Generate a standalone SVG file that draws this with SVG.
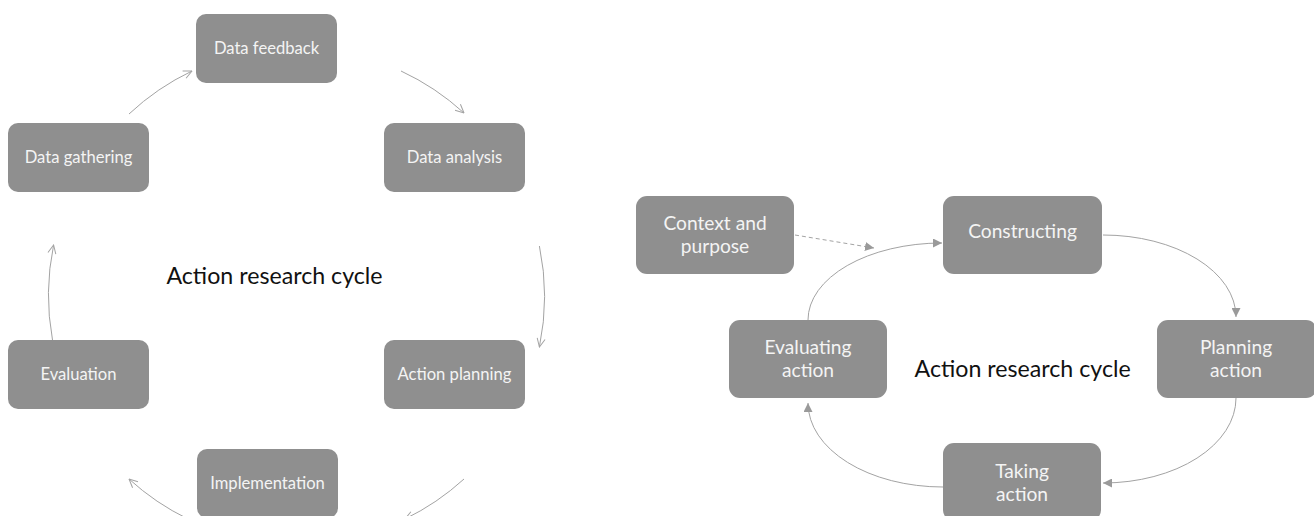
<svg xmlns="http://www.w3.org/2000/svg" width="1314" height="516" viewBox="0 0 1314 516">
<style>
.box{fill:#8f8f8f;}
.lt{font-family:Lato,"Liberation Sans",sans-serif;font-size:16.6px;fill:#f4f4f4;text-anchor:middle;}
.rt{font-family:Lato,"Liberation Sans",sans-serif;font-size:19.2px;fill:#f4f4f4;text-anchor:middle;}
.title{font-family:Lato,"Liberation Sans",sans-serif;font-size:23.2px;fill:#111;text-anchor:middle;}
.lc{fill:none;stroke:#a3a3a3;stroke-width:1;}
.rc{fill:none;stroke:#a3a3a3;stroke-width:1;}
</style>
<defs>
<marker id="open" viewBox="0 0 10 10" refX="9.5" refY="5" markerWidth="10" markerHeight="10" markerUnits="userSpaceOnUse" orient="auto">
<path d="M1,1 L9.5,5 L1,9" fill="none" stroke="#a3a3a3" stroke-width="1"/>
</marker>
<marker id="tri" viewBox="0 0 10 10" refX="10" refY="5" markerWidth="9" markerHeight="9" markerUnits="userSpaceOnUse" orient="auto">
<path d="M0,0 L10,5 L0,10 z" fill="#9a9a9a"/>
</marker>
</defs>
<rect width="1314" height="516" fill="#ffffff"/>

<g id="left-title"><text class="title" x="274.5" y="284">Action research cycle</text></g>
<g id="n-feedback"><rect class="box" x="196" y="14" width="141" height="69" rx="10"/><text class="lt" x="266.5" y="54">Data feedback</text></g>
<g id="n-gathering"><rect class="box" x="8" y="123" width="141" height="69" rx="10"/><text class="lt" x="78.5" y="163">Data gathering</text></g>
<g id="n-analysis"><rect class="box" x="384" y="123" width="141" height="69" rx="10"/><text class="lt" x="454.5" y="163">Data analysis</text></g>
<g id="n-evaluation"><rect class="box" x="8" y="340" width="141" height="69" rx="10"/><text class="lt" x="78.5" y="380">Evaluation</text></g>
<g id="n-planning"><rect class="box" x="384" y="340" width="141" height="69" rx="10"/><text class="lt" x="454.5" y="380">Action planning</text></g>
<g id="n-implementation"><rect class="box" x="197" y="449" width="141" height="69" rx="10"/><text class="lt" x="267.5" y="489">Implementation</text></g>

<g id="right-title"><text class="title" x="1022.6" y="377">Action research cycle</text></g>
<g id="n-context"><rect class="box" x="636" y="196" width="158" height="78" rx="11"/><text class="rt" x="715" y="229.5">Context and</text><text class="rt" x="715" y="252.5">purpose</text></g>
<g id="n-constructing"><rect class="box" x="943" y="196" width="159" height="78" rx="11"/><text class="rt" x="1022.5" y="238">Constructing</text></g>
<g id="n-evaluating"><rect class="box" x="729" y="320" width="158" height="78" rx="11"/><text class="rt" x="808" y="354">Evaluating</text><text class="rt" x="808" y="377">action</text></g>
<g id="n-planning-action"><rect class="box" x="1157" y="320" width="160" height="78" rx="11"/><text class="rt" x="1236" y="354">Planning</text><text class="rt" x="1236" y="377">action</text></g>
<g id="n-taking"><rect class="box" x="943" y="443" width="158" height="78" rx="11"/><text class="rt" x="1022" y="477.5">Taking</text><text class="rt" x="1022" y="500.5">action</text></g>

<g id="connectors">
<path class="lc" marker-end="url(#open)" d="M129,114 A248,248 0 0 1 192,71"/>
<path class="lc" marker-end="url(#open)" d="M401,71 A248,248 0 0 1 464,113"/>
<path class="lc" marker-end="url(#open)" d="M539.4,246 A248,248 0 0 1 539.4,347"/>
<path class="lc" marker-end="url(#open)" d="M464,479 A248,248 0 0 1 405,519"/>
<path class="lc" marker-end="url(#open)" d="M188,519 A248,248 0 0 1 129,479"/>
<path class="lc" marker-end="url(#open)" d="M52.5,340 A248,248 0 0 1 53.6,245"/>

<path class="rc" marker-end="url(#tri)" stroke-dasharray="4 3" d="M795,235 L874,248"/>
<path class="rc" marker-end="url(#tri)" d="M808,320 A134,77 0 0 1 942,243"/>
<path class="rc" marker-end="url(#tri)" d="M1103,235 A133,82 0 0 1 1236,317"/>
<path class="rc" marker-end="url(#tri)" d="M1236,398 A133,85 0 0 1 1103,483"/>
<path class="rc" marker-end="url(#tri)" d="M943,487 A135,84 0 0 1 808,403"/>
</g>
</svg>
